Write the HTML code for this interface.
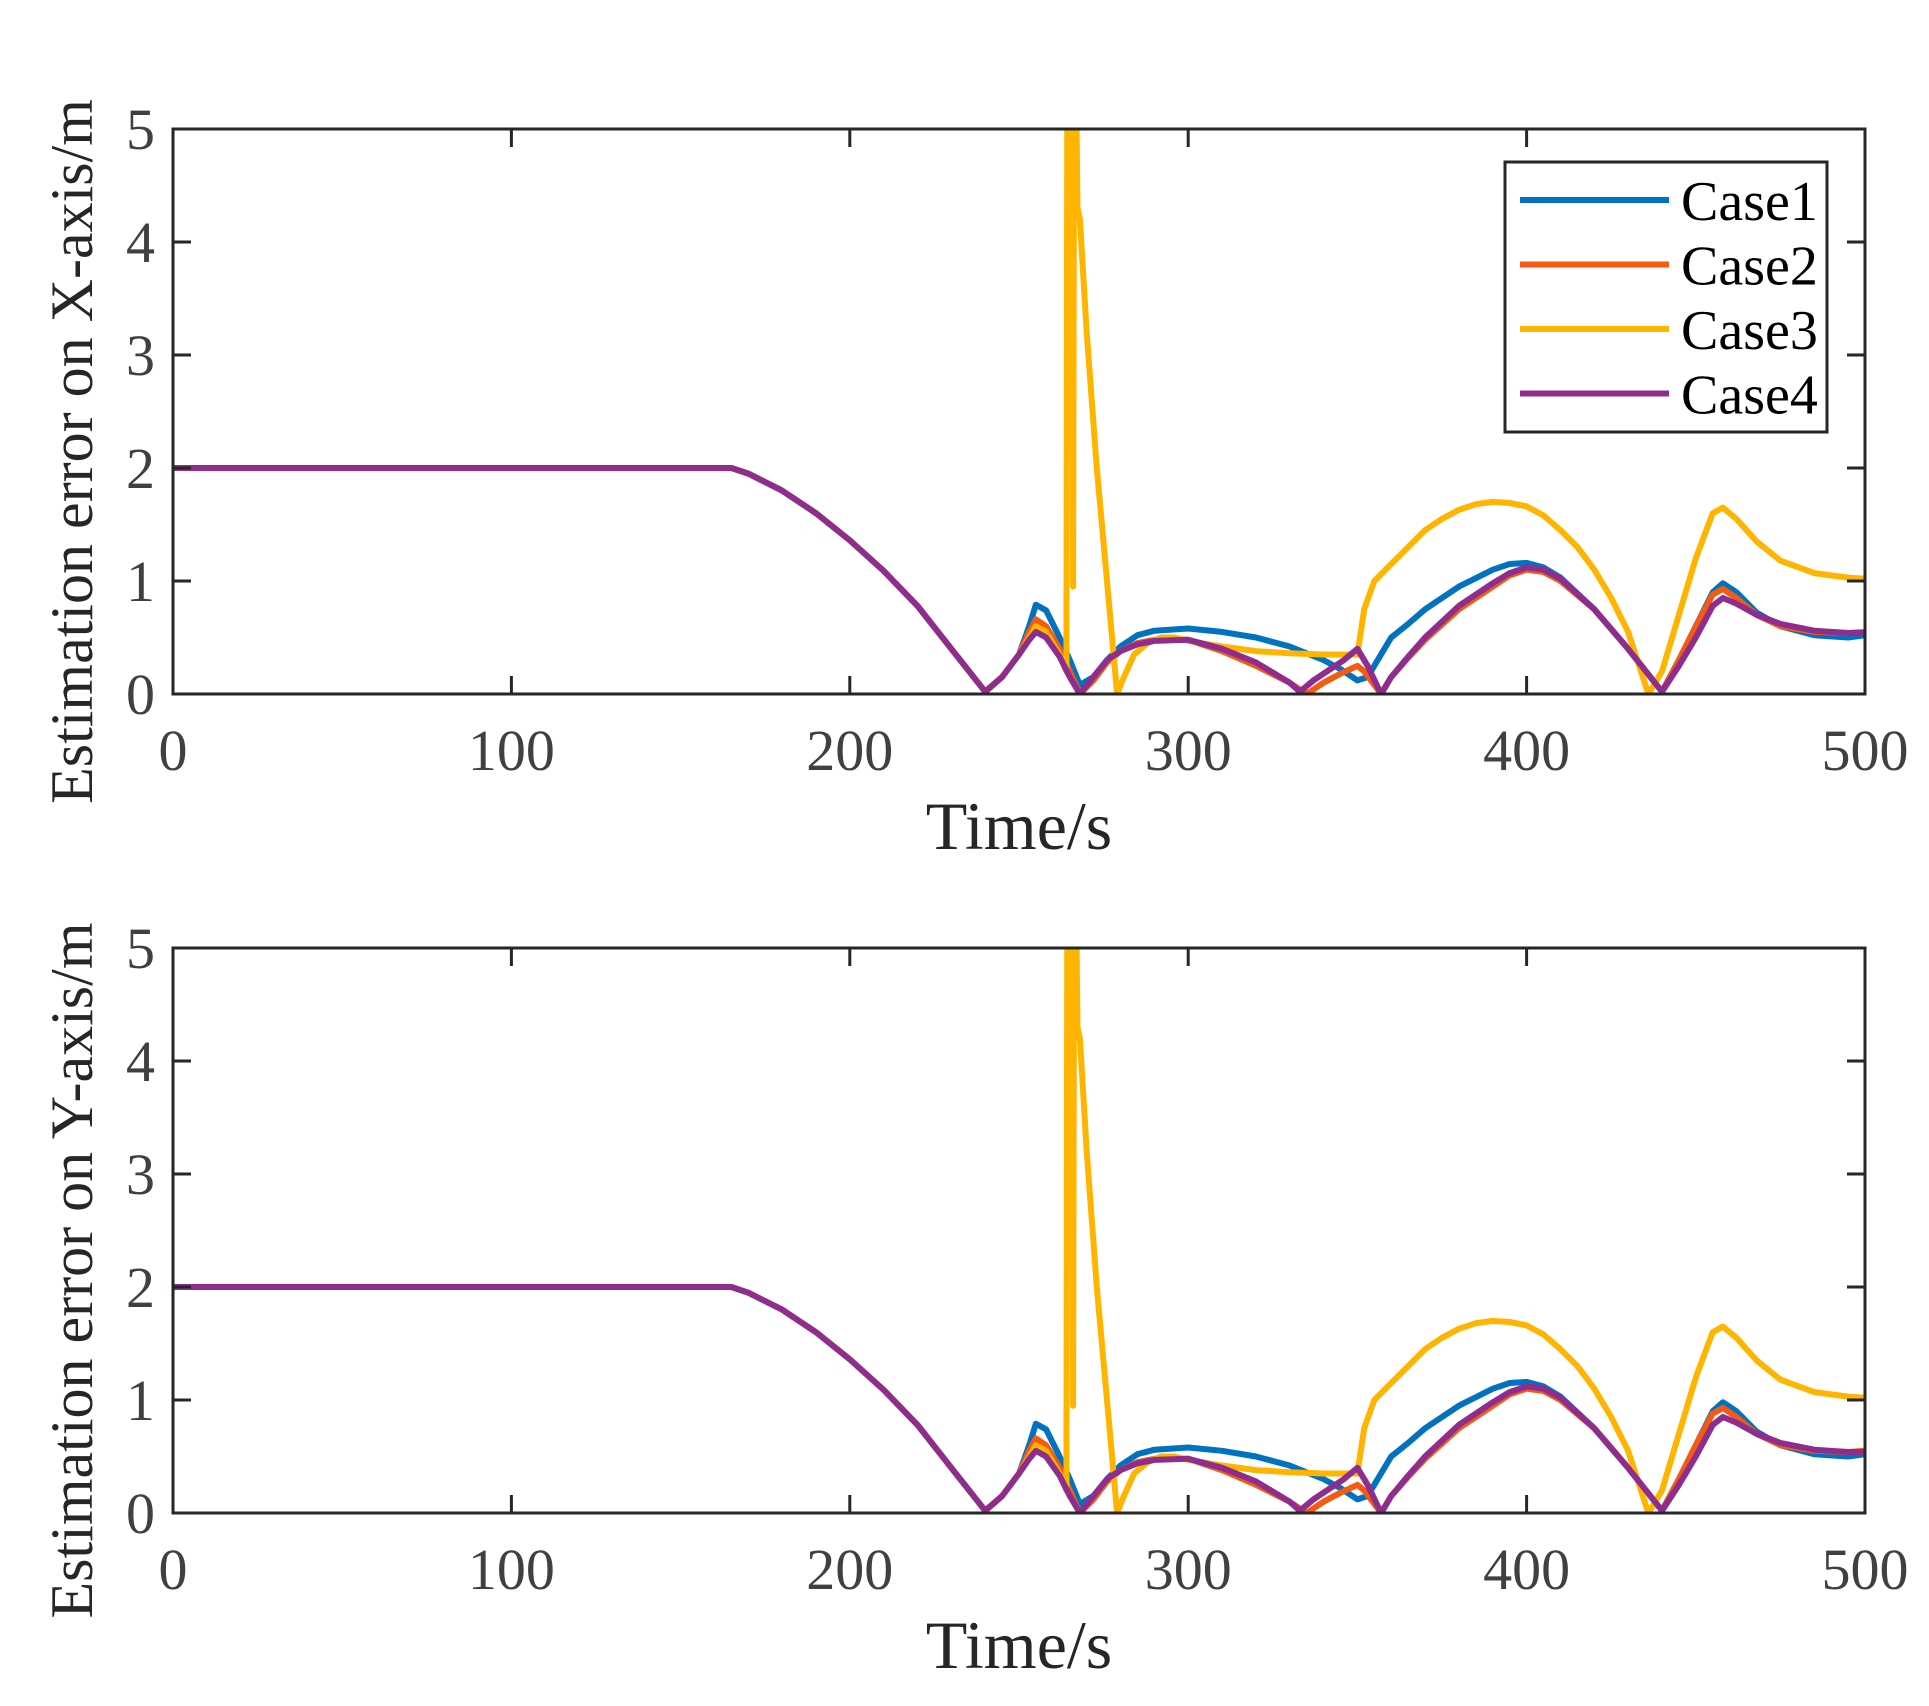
<!DOCTYPE html>
<html><head><meta charset="utf-8"><style>
body{margin:0;background:#fff}
svg{display:block}
text{font-family:"Liberation Serif",serif}
</style></head><body>
<svg id="fig" width="1929" height="1706" viewBox="0 0 1929 1706" xmlns="http://www.w3.org/2000/svg"></svg>
<script>
const xTicks=[0,100,200,300,400,500];
const yTicks=[0,1,2,3,4,5];
const seriesNames=['Case1','Case2','Case3','Case4'];
const seriesColors=['#0072C0','#F55A13','#FFB400','#8E2D8E'];
const case1T=[0,160,165,170,180,190,200,210,220,230,240,245,250,253,255,258,262,265,268,272,276,280,285,290,295,300,310,320,330,340,345,350,353,356,360,365,370,380,390,395,400,405,410,420,430,440,445,450,455,458,462,468,475,485,495,500];
const case1V=[2,2,2.0,1.95,1.8,1.6,1.36,1.09,0.78,0.4,0.02,0.15,0.35,0.6,0.79,0.74,0.5,0.3,0.08,0.15,0.3,0.42,0.52,0.56,0.57,0.58,0.55,0.5,0.42,0.3,0.22,0.12,0.15,0.3,0.5,0.62,0.75,0.95,1.1,1.15,1.16,1.12,1.03,0.75,0.4,0.02,0.3,0.6,0.9,0.98,0.9,0.72,0.6,0.52,0.5,0.52];
const case2T=[0,160,165,170,180,190,200,210,220,230,240,245,250,253,255,258,262,265,268,272,276,280,285,290,300,310,320,330,335,340,345,350,352,357,360,365,370,380,390,395,400,405,410,420,430,440,445,450,455,458,462,468,475,485,495,500];
const case2V=[2,2,2.0,1.95,1.8,1.6,1.36,1.09,0.78,0.4,0.02,0.15,0.35,0.55,0.66,0.6,0.4,0.2,0.0,0.12,0.28,0.38,0.45,0.48,0.48,0.38,0.25,0.1,0.0,0.1,0.18,0.25,0.2,0.0,0.15,0.32,0.48,0.75,0.95,1.05,1.1,1.08,1.0,0.75,0.4,0.02,0.3,0.6,0.88,0.93,0.85,0.7,0.6,0.55,0.54,0.55];
const case3T=[0,160,165,170,180,190,200,210,220,230,240,245,250,253,255,258,262,264,264.3,265.7,266,266.3,266.6,267.3,268,270,273,276,279,281,284,288,292,296,300,310,320,330,340,348,350,352,355,360,365,370,375,380,385,390,395,400,405,410,415,420,425,430,436,440,445,450,455,458,462,468,475,485,495,500];
const case3V=[2,2,2.0,1.95,1.8,1.6,1.36,1.09,0.78,0.4,0.02,0.15,0.35,0.5,0.6,0.55,0.35,0.2,6,6,0.95,6,6,4.3,4.2,3.2,2.0,1.0,0.0,0.15,0.35,0.45,0.5,0.5,0.47,0.42,0.38,0.36,0.35,0.35,0.35,0.75,1.0,1.15,1.3,1.45,1.55,1.63,1.68,1.7,1.69,1.66,1.58,1.45,1.3,1.1,0.85,0.55,0.0,0.2,0.7,1.2,1.6,1.65,1.55,1.35,1.18,1.07,1.03,1.02];
const case4T=[0,160,165,170,180,190,200,210,220,230,240,245,250,253,255,258,262,265,268,272,276,280,285,290,300,310,320,330,333,337,342,346,350,353,357,360,365,370,380,390,395,400,405,410,420,430,440,445,450,455,458,462,468,475,485,495,500];
const case4V=[2,2,2.0,1.95,1.8,1.6,1.36,1.09,0.78,0.4,0.02,0.15,0.35,0.48,0.55,0.5,0.33,0.15,0.0,0.15,0.3,0.38,0.44,0.47,0.48,0.4,0.28,0.1,0.02,0.12,0.22,0.3,0.4,0.25,0.0,0.15,0.33,0.5,0.78,0.98,1.07,1.12,1.1,1.02,0.75,0.4,0.02,0.25,0.5,0.78,0.85,0.8,0.7,0.62,0.56,0.54,0.54];
const seriesT=[case1T,case2T,case3T,case4T];
const seriesV=[case1V,case2V,case3V,case4V];

const NS='http://www.w3.org/2000/svg';
const svg=document.getElementById('fig');
function mk(tag,attrs,parent){const e=document.createElementNS(NS,tag);for(const k in attrs)e.setAttribute(k,attrs[k]);(parent||svg).appendChild(e);return e;}
const L=173,R=1865;
const panels=[{top:129,bot:694,lab:'Estimation error on X-axis/m',id:'x'},{top:948,bot:1513,lab:'Estimation error on Y-axis/m',id:'y'}];
panels.forEach((p,pi)=>{
  const g=mk('g',{});
  
  
  const sx=t=>L+(t-0)/500*(R-L);
  const sy=v=>p.bot-v/5*(p.bot-p.top);
  const cp=mk('clipPath',{id:'clip'+pi},g);
  mk('rect',{x:L,y:p.top,width:R-L,height:p.bot-p.top},cp);
  const lines=mk('g',{'clip-path':'url(#clip'+pi+')'},g);
  seriesT.forEach((ts,si)=>{
    const d=ts.map((t,i)=>(i?'L':'M')+sx(t).toFixed(1)+' '+sy(seriesV[si][i]).toFixed(1)).join(' ');
    const pl=mk('path',{d:d,fill:'none',stroke:seriesColors[si],'stroke-width':6,'stroke-linejoin':'round'},lines);
    
    
  });
  const frame=mk('rect',{x:L,y:p.top,width:R-L,height:p.bot-p.top,fill:'none',stroke:'#262626','stroke-width':3},g);
  
  
  xTicks.forEach(t=>{
    const x=sx(t);
    mk('line',{x1:x,x2:x,y1:p.bot,y2:p.bot-18,stroke:'#262626','stroke-width':3},g);
    mk('line',{x1:x,x2:x,y1:p.top,y2:p.top+18,stroke:'#262626','stroke-width':3},g);
    const tx=mk('text',{x:x,y:p.bot+76,'font-size':58,fill:'#404040','text-anchor':'middle'},g);
    tx.textContent=t;
    
    
  });
  yTicks.forEach(v=>{
    const y=sy(v);
    mk('line',{x1:L,x2:L+18,y1:y,y2:y,stroke:'#262626','stroke-width':3},g);
    mk('line',{x1:R,x2:R-18,y1:y,y2:y,stroke:'#262626','stroke-width':3},g);
    const tx=mk('text',{x:155,y:y+20,'font-size':58,fill:'#404040','text-anchor':'end'},g);
    tx.textContent=v;
    
    
  });
  const xl=mk('text',{x:(L+R)/2,y:p.bot+155,'font-size':68,fill:'#262626','text-anchor':'middle'},g);
  xl.textContent='Time/s';
  
  
  const cy=(p.top+p.bot)/2+40;
  const yl=mk('text',{x:0,y:0,'font-size':60,fill:'#262626','text-anchor':'middle',transform:'translate(92 '+cy+') rotate(-90)'},g);
  yl.textContent=p.lab;
  
  
});
const lg=mk('g',{});


mk('rect',{x:1505,y:162,width:322,height:270,fill:'#fff',stroke:'#262626','stroke-width':3},lg);
seriesNames.forEach((n,i)=>{
  const y=200+i*64.5;
  const e=mk('g',{},lg);
  
  
  mk('line',{x1:1520,x2:1669,y1:y,y2:y,stroke:seriesColors[i],'stroke-width':6},e);
  const t=mk('text',{x:1681,y:y+20,'font-size':56,fill:'#000'},e);
  t.textContent=n;
});
</script>
</body></html>
